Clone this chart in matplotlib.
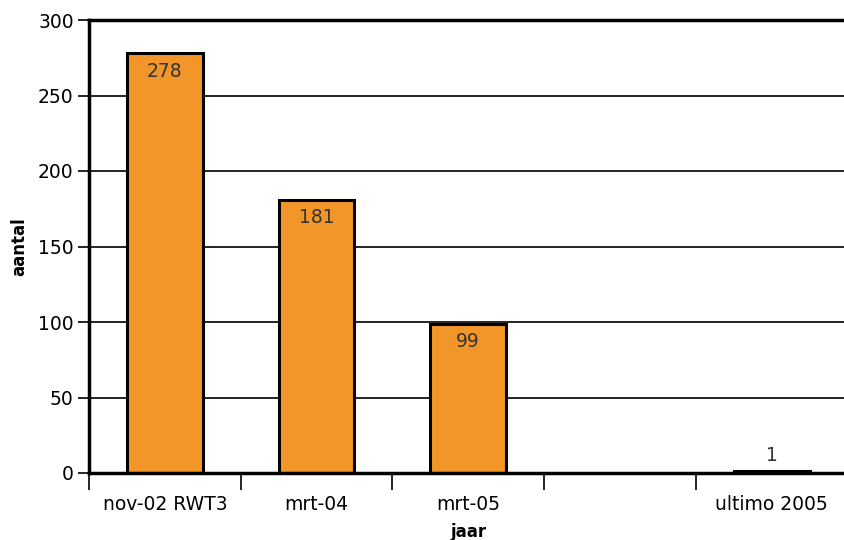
import matplotlib.pyplot as plt

categories = ['nov-02 RWT3', 'mrt-04', 'mrt-05', '', 'ultimo 2005']
values = [278, 181, 99, None, 1]

plt.rcParams['font.family'] = ['DejaVu Sans']

W, H = 845, 540
fig = plt.figure(figsize=(W / 100, H / 100), dpi=100)
ax = fig.add_axes([89 / W, 1 - 473 / H, 758.5 / W, 453 / H])

orange = '#F39629'
fs = 13.5
n = len(categories)
xs = list(range(n))

ax.set_xlim(-0.5, n - 0.5)
ax.set_ylim(0, 300)

# horizontal gridlines behind bars
for y in [50, 100, 150, 200, 250]:
    ax.axhline(y, color='black', lw=1.2, zorder=1)

for x, v in zip(xs, values):
    if v is None:
        continue
    ax.bar(x, v, width=0.5, color=orange, edgecolor='black', linewidth=2.2, zorder=2)
    if v > 20:
        ax.annotate(str(v), (x, v), xytext=(0, -18), textcoords='offset pixels',
                    ha='center', va='center', fontsize=fs, color='#333333', zorder=3)
    else:
        ax.annotate(str(v), (x, v), xytext=(0, 16), textcoords='offset pixels',
                    ha='center', va='center', fontsize=fs, color='#333333', zorder=3)

ax.set_yticks([0, 50, 100, 150, 200, 250, 300])
ax.tick_params(axis='y', length=8, width=1.2, labelsize=fs, pad=3)

# category labels between the tick marks at slot boundaries
ax.set_xticks([i - 0.5 for i in range(n)])
ax.set_xticklabels([])
ax.set_xticks(xs, minor=True)
ax.set_xticklabels(categories, minor=True, fontsize=fs)
ax.tick_params(axis='x', which='major', length=12, width=1.2)
ax.tick_params(axis='x', which='minor', length=0, pad=16)

for s in ['left', 'bottom', 'top']:
    ax.spines[s].set_linewidth(2.5)
ax.spines['right'].set_visible(False)

ax.set_ylabel('aantal', fontsize=12, fontweight='bold', labelpad=7)
ax.set_xlabel('jaar', fontsize=12, fontweight='bold', labelpad=6)

fig.savefig('out.png', dpi=100)
